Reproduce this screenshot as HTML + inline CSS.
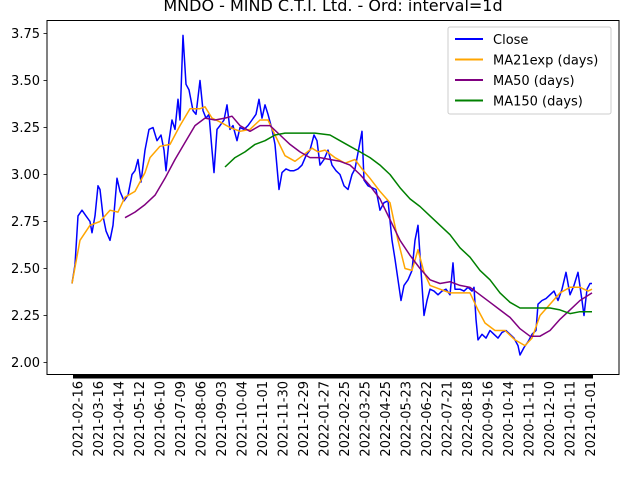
<!DOCTYPE html>
<html><head><meta charset="utf-8"><style>
body{margin:0;background:#fff}
svg{display:block;font-family:"DejaVu Sans","Liberation Sans",sans-serif}
</style></head><body>
<svg id="chart" width="640" height="480" viewBox="0 0 640 480" xmlns="http://www.w3.org/2000/svg">
<rect width="640" height="480" fill="#fff"/>
<text x="333" y="11" font-size="16" text-anchor="middle">MNDO - MIND C.T.I. Ltd. - Ord: interval=1d</text>
<g id="plot"></g>
<rect x="47" y="20.5" width="572" height="354" fill="none" stroke="#000" stroke-width="1"/>
<g id="axes"></g>
<g>
<rect x="448" y="27" width="163" height="87" rx="2" fill="#fff" fill-opacity="0.8" stroke="#ccc"/>
<line x1="455" y1="39" x2="483" y2="39" stroke="blue" stroke-width="2"/><text x="493" y="44" font-size="13">Close</text>
<line x1="455" y1="59.5" x2="483" y2="59.5" stroke="orange" stroke-width="2"/><text x="493" y="64.5" font-size="13">MA21exp (days)</text>
<line x1="455" y1="80" x2="483" y2="80" stroke="purple" stroke-width="2"/><text x="493" y="85" font-size="13">MA50 (days)</text>
<line x1="455" y1="100.5" x2="483" y2="100.5" stroke="green" stroke-width="2"/><text x="493" y="105.5" font-size="13">MA150 (days)</text>
</g>
</svg>
<script>
const xLabels=["2021-02-16","2021-03-16","2021-04-14","2021-05-12","2021-06-10","2021-07-09","2021-08-06","2021-09-03","2021-10-04","2021-11-01","2021-11-30","2021-12-29","2022-01-27","2022-02-25","2022-03-25","2022-04-25","2022-05-23","2022-06-22","2022-07-21","2022-08-18","2020-09-16","2020-10-14","2020-11-11","2020-12-10","2021-01-11","2021-01-01"];
const yTicks=[2.00,2.25,2.50,2.75,3.00,3.25,3.50,3.75];
const closeDays=[0,3,6,10,14,18,20,23,26,28,31,34,38,41,45,48,52,56,60,63,66,69,73,77,81,85,89,92,94,97,100,103,106,108,111,114,117,121,124,128,131,134,137,140,142,145,148,152,155,158,161,165,168,172,176,180,184,187,190,193,196,200,203,207,210,214,218,222,226,230,234,238,242,245,248,252,256,260,264,268,272,276,280,283,290,292,296,300,304,308,312,316,320,323,326,329,332,336,340,343,346,349,352,355,358,362,366,370,374,378,381,383,388,392,396,400,402,404,406,410,414,418,422,426,430,434,438,442,446,448,452,456,460,464,466,470,474,478,482,486,490,494,498,502,506,510,512,515,518,520];
const closeVals=[2.42,2.52,2.78,2.81,2.78,2.75,2.69,2.78,2.94,2.92,2.78,2.70,2.65,2.73,2.98,2.91,2.86,2.89,3.00,3.02,3.08,2.96,3.13,3.24,3.25,3.18,3.21,3.13,3.02,3.18,3.29,3.24,3.40,3.29,3.74,3.48,3.45,3.34,3.32,3.50,3.34,3.30,3.32,3.13,3.01,3.24,3.26,3.29,3.37,3.24,3.26,3.18,3.25,3.24,3.26,3.29,3.32,3.40,3.30,3.37,3.32,3.24,3.16,2.92,3.01,3.03,3.02,3.02,3.03,3.05,3.10,3.13,3.21,3.18,3.05,3.08,3.13,3.05,3.02,3.00,2.94,2.92,3.00,3.03,3.23,2.97,2.94,2.93,2.92,2.81,2.85,2.86,2.65,2.55,2.44,2.33,2.41,2.44,2.49,2.65,2.73,2.49,2.25,2.33,2.39,2.38,2.36,2.38,2.39,2.36,2.53,2.39,2.39,2.38,2.40,2.38,2.40,2.23,2.12,2.15,2.13,2.17,2.15,2.13,2.16,2.17,2.15,2.13,2.09,2.04,2.08,2.11,2.15,2.17,2.31,2.33,2.34,2.36,2.38,2.33,2.39,2.48,2.36,2.41,2.48,2.33,2.25,2.39,2.42,2.42];
const ma21Days=[0,8,18,28,38,46,53,63,73,78,88,98,103,108,118,128,133,140,148,158,168,178,188,196,203,213,223,233,240,246,253,263,273,283,290,298,308,318,326,333,340,346,352,358,368,378,388,398,406,413,423,433,443,453,460,468,478,488,498,508,516,520];
const ma21Vals=[2.42,2.65,2.73,2.75,2.81,2.80,2.88,2.91,3.01,3.09,3.15,3.16,3.21,3.26,3.35,3.35,3.36,3.30,3.28,3.25,3.23,3.24,3.29,3.29,3.21,3.10,3.07,3.11,3.14,3.12,3.13,3.09,3.06,3.08,3.03,2.98,2.91,2.85,2.65,2.50,2.49,2.60,2.48,2.41,2.39,2.37,2.37,2.37,2.28,2.21,2.17,2.17,2.12,2.09,2.13,2.25,2.31,2.37,2.40,2.40,2.38,2.39];
const ma50Days=[53,63,73,83,93,103,113,123,133,143,153,160,168,178,188,198,208,218,228,238,248,258,268,278,288,298,308,318,328,338,348,358,368,378,388,398,408,418,428,438,448,458,468,478,488,498,508,520];
const ma50Vals=[2.77,2.80,2.84,2.89,2.98,3.08,3.17,3.26,3.30,3.29,3.30,3.31,3.26,3.23,3.26,3.26,3.21,3.16,3.12,3.09,3.09,3.08,3.07,3.05,3.00,2.94,2.87,2.76,2.65,2.57,2.50,2.44,2.42,2.43,2.41,2.40,2.36,2.32,2.28,2.24,2.18,2.14,2.14,2.17,2.23,2.28,2.33,2.37];
const ma150Days=[153,163,173,183,193,203,213,223,233,243,258,268,278,288,298,308,318,328,338,348,358,368,378,388,398,408,418,428,438,448,458,468,478,488,498,508,520];
const ma150Vals=[3.04,3.09,3.12,3.16,3.18,3.21,3.22,3.22,3.22,3.22,3.21,3.18,3.15,3.12,3.09,3.05,3.00,2.93,2.87,2.83,2.78,2.73,2.68,2.61,2.56,2.49,2.44,2.37,2.32,2.29,2.29,2.29,2.29,2.28,2.26,2.27,2.27];

const NS="http://www.w3.org/2000/svg";
function xScale(d){return 72+d;}
function yScale(v){return 362.5-(v-2)*188;}
function mk(tag,attrs,parent){const e=document.createElementNS(NS,tag);for(const k in attrs)e.setAttribute(k,attrs[k]);parent.appendChild(e);return e;}
const plot=document.getElementById('plot');
const axes=document.getElementById('axes');
function line(days,vals,color,name){
  const d=days.map((t,i)=>(i?'L':'M')+xScale(t).toFixed(1)+','+yScale(vals[i]).toFixed(1)).join('');
  const p=mk('path',{d:d,fill:'none',stroke:color,'stroke-width':1.5,'stroke-linejoin':'round'},plot);
  
  
}
line(closeDays,closeVals,'blue','close-line');
line(ma21Days,ma21Vals,'orange','ma21exp-line');
line(ma50Days,ma50Vals,'purple','ma50-line');
line(ma150Days,ma150Vals,'green','ma150-line');

yTicks.forEach(v=>{
  const y=yScale(v);
  const t=mk('line',{x1:43.5,x2:47,y1:y,y2:y,stroke:'#000','stroke-width':0.8},axes);
  
  
  const l=mk('text',{x:40,y:y+4.5,'font-size':13,'text-anchor':'end'},axes);
  l.textContent=v.toFixed(2);
  
  
});
const tb=mk('rect',{x:xScale(closeDays[0])+1,y:374.5,width:xScale(closeDays[closeDays.length-1])-xScale(closeDays[0]),height:4,fill:'#000'},axes);


xLabels.forEach((s,i)=>{
  const x=78+i*20.5;
  const l=mk('text',{transform:'translate('+(x+4.5)+',381) rotate(-90)','font-size':13,'text-anchor':'end'},axes);
  l.textContent=s;
  
  
});
</script>
</body></html>
